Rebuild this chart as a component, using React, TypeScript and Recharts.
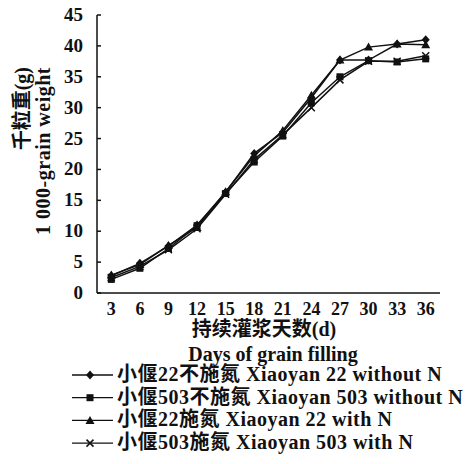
import React from 'react';
import { LineChart, Line, XAxis, YAxis, Legend } from 'recharts';

const days = [3, 6, 9, 12, 15, 18, 21, 24, 27, 30, 33, 36];
const xy22WithoutN = [2.8, 4.8, 7.6, 11.0, 16.3, 22.6, 26.0, 31.6, 37.7, 37.7, 40.3, 41.0];
const xy503WithoutN = [2.2, 4.0, 7.2, 10.9, 16.1, 21.2, 25.4, 30.8, 35.0, 37.6, 37.4, 37.9];
const xy22WithN = [2.9, 4.6, 7.7, 10.6, 16.4, 22.2, 26.3, 32.0, 37.7, 39.8, 40.3, 40.2];
const xy503WithN = [2.5, 4.3, 7.0, 10.4, 16.0, 21.6, 25.6, 30.0, 34.5, 37.5, 37.5, 38.4];
const yTicks = [0, 5, 10, 15, 20, 25, 30, 35, 40, 45];
const bandEdges = [4.5, 7.5, 10.5, 13.5, 16.5, 19.5, 22.5, 25.5, 28.5, 31.5, 34.5, 37.5];
const seriesNames = [
  '小偃22不施氮 Xiaoyan 22 without N',
  '小偃503不施氮 Xiaoyan 503 without N',
  '小偃22施氮 Xiaoyan 22 with N',
  '小偃503施氮 Xiaoyan 503 with N',
];
const yTitleCn = '千粒重(g)';
const yTitleEn = '1 000-grain weight';
const xTitleCn = '持续灌浆天数(d)';
const xTitleEn = 'Days of grain filling';

const keys = ['s1', 's2', 's3', 's4'];

const data = days.map((d, i) => ({
  day: d,
  s1: xy22WithoutN[i],
  s2: xy503WithoutN[i],
  s3: xy22WithN[i],
  s4: xy503WithN[i],
}));

const FONT = '"Liberation Serif", "Times New Roman", "Noto Sans CJK SC", serif';
const INK = '#111';

type Shape = 'diamond' | 'square' | 'triangle' | 'cross';

const marker = (shape: Shape, cx: number, cy: number, key?: string) => {
  switch (shape) {
    case 'diamond':
      return <path key={key} d={`M${cx},${cy - 4.5}L${cx + 4},${cy}L${cx},${cy + 4.5}L${cx - 4},${cy}Z`} fill={INK} />;
    case 'square':
      return <rect key={key} x={cx - 3.5} y={cy - 3.5} width={7} height={7} fill={INK} />;
    case 'triangle':
      return <path key={key} d={`M${cx},${cy - 4.5}L${cx + 4.5},${cy + 3.5}L${cx - 4.5},${cy + 3.5}Z`} fill={INK} />;
    default:
      return (
        <path key={key} d={`M${cx - 3.5},${cy - 3.5}L${cx + 3.5},${cy + 3.5}M${cx + 3.5},${cy - 3.5}L${cx - 3.5},${cy + 3.5}`} stroke={INK} strokeWidth={1.5} />
      );
  }
};

const shapes: Record<string, Shape> = { s1: 'diamond', s2: 'square', s3: 'triangle', s4: 'cross' };

const makeDot = (shape: Shape) => (p: any) => {
  if (p.cx == null || p.cy == null) return <g key={p.key} />;
  return <g key={`${shape}-${p.index}`}>{marker(shape, p.cx, p.cy)}</g>;
};

const YTick = (p: any) => {
  const { x, y, payload } = p;
  return (
    <g>
      <text x={x} y={y} dy={6} textAnchor="end" fontSize={19} fontWeight="bold" fontFamily={FONT} fill={INK}>
        {payload.value}
      </text>
      <line x1={x + 14} x2={x + 18} y1={y} y2={y} stroke={INK} strokeWidth={1.5} />
    </g>
  );
};

const LegendContent = (props: any) => {
  const payload = [...(props.payload || [])].sort(
    (a: any, b: any) => keys.indexOf(a.dataKey) - keys.indexOf(b.dataKey)
  );
  return (
    <svg width={467} height={100} style={{ display: 'block' }}>
      {payload.map((e: any, i: number) => {
        const y = 13 + i * 22.7;
        return (
          <g key={e.dataKey || i}>
            <line x1={72} x2={113} y1={y} y2={y} stroke={INK} strokeWidth={1.3} />
            {marker(shapes[e.dataKey] || 'diamond', 90, y)}
            <text x={117} y={y} dy={6} fontSize={20} letterSpacing={0.5} fontWeight="bold" fontFamily={FONT} fill={INK}>
              {e.value}
            </text>
          </g>
        );
      })}
    </svg>
  );
};

export default function App() {
  return (
    <div style={{ position: 'absolute', left: 0, top: 0, width: 467, height: 464, background: '#fff' }}>
      <LineChart width={467} height={464} data={data} margin={{ top: 15, right: 27, left: 0, bottom: 141 }}>
        <XAxis
          xAxisId="main"
          dataKey="day"
          type="number"
          domain={[1.5, 37.5]}
          ticks={days}
          interval={0}
          height={30}
          tickLine={false}
          tickSize={0}
          tickMargin={9}
          axisLine={{ stroke: INK, strokeWidth: 1.5 }}
          tick={{ fontSize: 18, fontWeight: 'bold', fontFamily: FONT, fill: INK }}
        />
        <XAxis
          xAxisId="edges"
          dataKey="day"
          type="number"
          domain={[1.5, 37.5]}
          ticks={bandEdges}
          interval={0}
          mirror
          height={10}
          tick={false}
          tickSize={4}
          axisLine={false}
          tickLine={{ stroke: INK, strokeWidth: 1.5 }}
        />
        <YAxis
          yAxisId="main"
          type="number"
          domain={[0, 45]}
          ticks={yTicks}
          interval={0}
          width={97}
          tickLine={false}
          tickSize={0}
          tickMargin={14}
          axisLine={{ stroke: INK, strokeWidth: 1.5 }}
          tick={<YTick />}
        />
        {keys.map((k, i) => (
          <Line
            key={k}
            xAxisId="main"
            yAxisId="main"
            dataKey={k}
            name={seriesNames[i]}
            stroke={INK}
            strokeWidth={1.5}
            dot={makeDot(shapes[k])}
            activeDot={false}
            isAnimationActive={false}
          />
        ))}
        <Legend
          layout="vertical"
          align="center"
          verticalAlign="middle"
          wrapperStyle={{ position: 'absolute', left: 0, top: 362, width: 467 }}
          content={<LegendContent />}
        />
      </LineChart>
      <svg width={467} height={464} style={{ position: 'absolute', left: 0, top: 0, pointerEvents: 'none' }}>
        <text x={22} y={67} transform="rotate(-90 22 67)" textAnchor="end" dominantBaseline="central" fontSize={20} fontWeight="bold" fontFamily={FONT} fill={INK}>
          {yTitleCn}
        </text>
        <text x={43} y={67} transform="rotate(-90 43 67)" textAnchor="end" dominantBaseline="central" fontSize={20} letterSpacing={0.5} fontWeight="bold" fontFamily={FONT} fill={INK}>
          {yTitleEn}
        </text>
        <text x={264} y={329} textAnchor="middle" dominantBaseline="central" fontSize={20} fontWeight="bold" fontFamily={FONT} fill={INK}>
          {xTitleCn}
        </text>
        <text x={273} y={354} textAnchor="middle" dominantBaseline="central" fontSize={20} fontWeight="bold" fontFamily={FONT} fill={INK}>
          {xTitleEn}
        </text>
      </svg>
    </div>
  );
}
